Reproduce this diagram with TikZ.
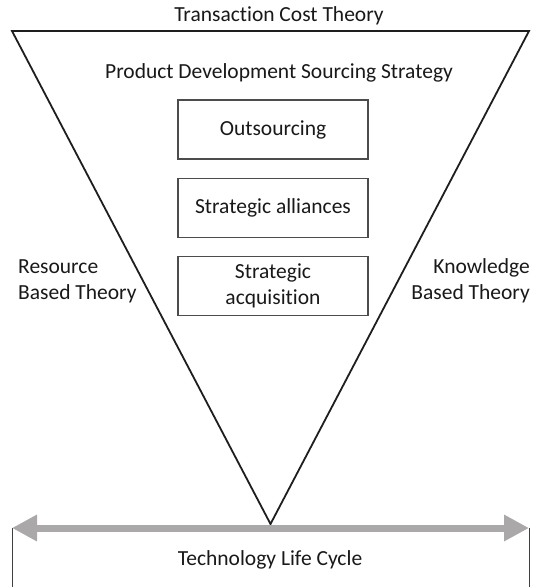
\documentclass[tikz,border=0pt]{standalone}
\usepackage{fontspec}
\setmainfont{Carlito}[Ligatures={NoCommon}]
\usetikzlibrary{arrows.meta}
\usetikzlibrary{positioning}

\definecolor{arrowgray}{RGB}{170,168,168}
\definecolor{linedark}{RGB}{30,30,30}

\begin{document}
\begin{tikzpicture}[x=1pt,y=-1pt,
	every node/.style={font=\fontsize{21.5}{26}\selectfont,inner sep=0pt,text=black!90},
	theory/.style={align=center},
	strategy box/.style={draw=black!70,line width=1.1pt,minimum width=190pt,
		minimum height=59pt,align=center},
	funnel/.style={draw=linedark,line width=1.8pt,line join=miter},
	cycle arrow/.style={draw=arrowgray,line width=7pt,
		{Triangle[length=25pt,width=25pt]}-{Triangle[length=25pt,width=25pt]}}]

	\useasboundingbox (0,0) rectangle (535,587);

	% corners of the funnel
	\coordinate (tl) at (12,31);
	\coordinate (tr) at (529,31);
	\coordinate (apex) at (270.5,524);
	\draw[funnel] (apex) -- (tl) -- (tr) -- cycle;

	\node[theory] (tct) at (279,16) {Transaction Cost Theory};
	\node[theory] (pdss) at (279,73) {Product Development\ Sourcing Strategy};

	\node[strategy box] (out) at (273,129.5) {Outsourcing};
	\node[strategy box] (all) [below=18pt of out] {Strategic alliances};
	\node[strategy box] (acq) [below=18pt of all] {Strategic\\acquisition};

	\node[align=left,anchor=west] (rbt) at (18,281) {Resource\\Based Theory};
	\node[align=right,anchor=east] (kbt) at (530,281) {Knowledge\\Based Theory};

	% technology life cycle
	\coordinate (lc left) at (12,528);
	\coordinate (lc right) at (529,528);
	\coordinate (lc left end) at (12,587);
	\coordinate (lc right end) at (529,587);
	\draw[black!75,line width=0.9pt] (lc left) -- (lc left end);
	\draw[black!75,line width=0.9pt] (lc right) -- (lc right end);
	\path[cycle arrow] (lc left) -- (lc right);
	\node (tlc) at (270,560) {Technology Life Cycle};
\end{tikzpicture}
\end{document}
